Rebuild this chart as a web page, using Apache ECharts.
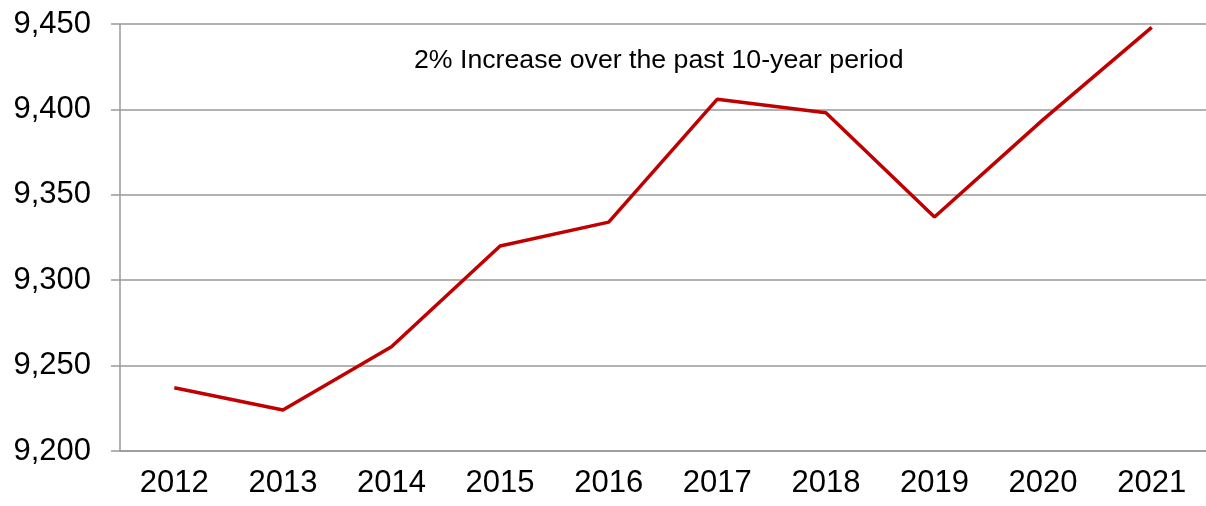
<!DOCTYPE html>
<html>
<head>
<meta charset="utf-8">
<script src="https://cdn.jsdelivr.net/npm/echarts@6/dist/echarts.min.js"></script>
<style>
  html, body { margin: 0; padding: 0; background: #fff; }
  #chart { width: 1206px; height: 506px; }
</style>
</head>
<body>
<div id="chart"></div>
<script>
const years = ['2012', '2013', '2014', '2015', '2016', '2017', '2018', '2019', '2020', '2021']
const values = [9237, 9224, 9261, 9320, 9334, 9406, 9398, 9337, 9394, 9448]
const note = '2% Increase over the past 10-year period'

const chart = echarts.init(document.getElementById('chart'))
const font = '"Liberation Sans", Arial, sans-serif'

chart.setOption({
  animation: false,
  backgroundColor: '#fff',
  grid: { left: 120, top: 24, right: -3, bottom: 55 },
  graphic: [{
    type: 'text',
    left: 414,
    top: 47,
    style: { text: note, font: '26.7px ' + font, fill: '#000' }
  }],
  xAxis: {
    type: 'category',
    data: years,
    axisLine: { lineStyle: { color: '#999', width: 1.5 } },
    axisTick: { alignWithLabel: true, length: 7, lineStyle: { color: '#999', width: 1.5 } },
    axisLabel: { color: '#000', fontSize: 31, fontFamily: font, margin: 17 }
  },
  yAxis: {
    type: 'value',
    min: 9200,
    max: 9450,
    interval: 50,
    axisLine: { show: true, lineStyle: { color: '#999', width: 1.5 } },
    axisTick: { show: true, length: 9, lineStyle: { color: '#999', width: 1.5 } },
    splitLine: { lineStyle: { color: '#999', width: 1.5 } },
    axisLabel: {
      color: '#000', fontSize: 31, fontFamily: font, margin: 29,
      formatter: v => v.toLocaleString('en-US')
    }
  },
  series: [{
    type: 'line',
    data: values,
    symbol: 'none',
    lineStyle: { color: '#c00000', width: 3.5 }
  }]
})
</script>
</body>
</html>
